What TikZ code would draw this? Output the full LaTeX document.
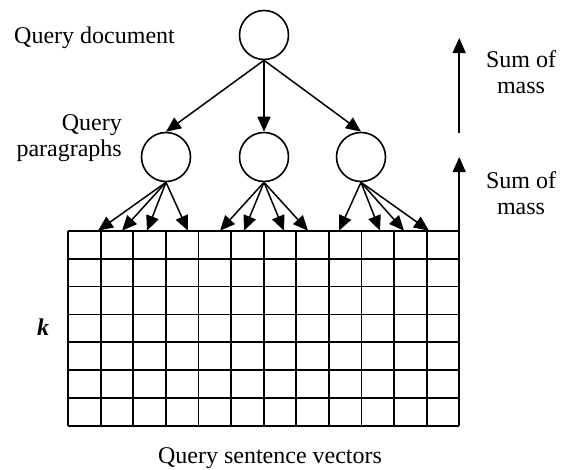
\documentclass[tikz,border=0pt]{standalone}
\usepackage{fontspec}
\setmainfont{Liberation Serif}
\usetikzlibrary{arrows.meta}
\begin{document}
\begin{tikzpicture}[x=1pt,y=-1pt,
  vnode/.style={circle,draw,line width=1.6pt,minimum size=49pt,inner sep=0pt},
  flowarrow/.style={line width=1.5pt,-{Triangle[length=15pt,width=13pt]}},
  sumarrow/.style={line width=1.5pt,-{Triangle[length=15pt,width=13pt]}},
  gridline/.style={line width=1.8pt},
  lbl/.style={inner sep=0pt,font=\fontsize{24}{25.5}\selectfont}]
\useasboundingbox (0,0) rectangle (570,469);

% document and paragraph nodes
\node[vnode] (doc) at (264,35) {};
\node[vnode] (p1) at (166,157) {};
\node[vnode] (p2) at (264,157) {};
\node[vnode] (p3) at (361,157) {};

\draw[flowarrow] (doc.south) -- (p1.north);
\draw[flowarrow] (doc.south) -- (p2.north);
\draw[flowarrow] (doc.south) -- (p3.north);

% sentence-vector grid: 12 columns, 7 rows
\def\gx{68}\def\gy{230.7}\def\cw{32.6}\def\rh{27.9}
\coordinate (gNW) at (\gx,\gy);
\coordinate (gNE) at (\gx+12*\cw,\gy);
\foreach \i in {0,...,12}
  \draw[gridline] (\gx+\i*\cw,\gy) -- (\gx+\i*\cw,\gy+7*\rh);
\foreach \j in {0,...,7}
  \draw[gridline] (\gx,\gy+\j*\rh) -- (\gx+12*\cw,\gy+\j*\rh);

% fan-out from each paragraph to its sentences
\foreach \p/\offs in {p1/{-68,-44,-19,22}, p2/{-44,-20,20,44}, p3/{-22,19,43,68}}{
  \foreach \o [count=\k] in \offs {
    \path (\p.south) ++(\o,0) coordinate (\p t\k);
    \coordinate (\p s\k) at (\p t\k |- gNW);
    \draw[flowarrow] (\p.south) -- (\p s\k);
  }
}

% aggregation arrows on the right, in line with the grid's right edge
\coordinate (upA) at (gNE |- 0,133);
\coordinate (upAt) at (gNE |- 0,38);
\coordinate (upBt) at (gNE |- 0,157);
\draw[sumarrow] (upA) -- (upAt);
\draw[sumarrow] (gNE) -- (upBt);

% labels (base anchor of a multi-line label sits on its last line)
\node[lbl,anchor=base west] (tdoc) at (14,43) {Query document};
\node[lbl,anchor=base east,align=right] (tpar) at (122,156) {Query\\paragraphs};
\node[lbl,anchor=base,align=center] (tsumA) at (521,93) {Sum of\\mass};
\node[lbl,anchor=base,align=center] (tsumB) at (521,214) {Sum of\\mass};
\node[lbl,anchor=center] (tk) at (43,327) {\textbf{\textit{k}}};
\node[lbl,anchor=base] (tvec) at (270,463) {Query sentence vectors};
\end{tikzpicture}
\end{document}
